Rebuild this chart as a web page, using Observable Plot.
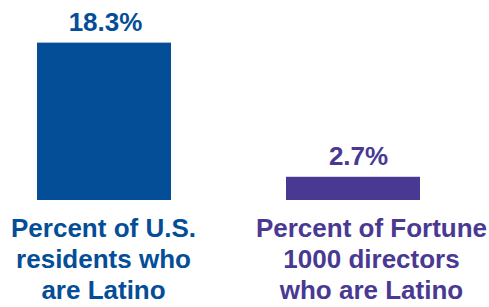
<!DOCTYPE html>
<html>
<head>
<meta charset="utf-8">
<script src="https://cdn.jsdelivr.net/npm/d3@7"></script>
<script src="https://cdn.jsdelivr.net/npm/@observablehq/plot@0.6"></script>
<style>
  html, body { margin: 0; padding: 0; background: #fff; }
  #chart svg { display: block; }
</style>
</head>
<body>
<div id="chart"></div>
<script>
const categories = ["Percent of U.S.\nresidents who\nare Latino", "Percent of Fortune\n1000 directors\nwho are Latino"];
const values = [18.3, 2.7];
const valueLabels = ["18.3%", "2.7%"];
const colors = ["#034e97", "#493993"];

const data = categories.map((c, i) => ({category: c, value: values[i], label: valueLabels[i], color: colors[i]}));
const font = "'Liberation Sans', Arial, sans-serif";

const plot = Plot.plot({
  width: 489,
  height: 307,
  marginLeft: 37,
  marginRight: 69,
  marginTop: 28,
  marginBottom: 107,
  style: {fontFamily: font, background: "#fff"},
  x: {domain: categories, paddingInner: 0.462, paddingOuter: 0, axis: null},
  y: {domain: [0, 20], axis: null},
  marks: [
    Plot.barY(data, {x: "category", y: "value", fill: d => d.color}),
    Plot.text(data.filter((d, i) => i === 0), {x: "category", y: "value", text: "label", fill: d => d.color, dy: -12, lineAnchor: "bottom", fontSize: 26, fontWeight: "bold", dx: 1}),
    Plot.text(data.filter((d, i) => i === 1), {x: "category", y: "value", text: "label", fill: d => d.color, dy: -12, lineAnchor: "bottom", fontSize: 26, fontWeight: "bold", dx: 5}),
    Plot.text(data.filter((d, i) => i === 0), {x: "category", y: () => 0, text: "category", fill: d => d.color, dy: 14, lineAnchor: "top", fontSize: 26, fontWeight: "bold", lineHeight: 1.2, dx: -1}),
    Plot.text(data.filter((d, i) => i === 1), {x: "category", y: () => 0, text: "category", fill: d => d.color, dy: 14, lineAnchor: "top", fontSize: 26, fontWeight: "bold", lineHeight: 1.2, dx: 18})
  ]
});
document.getElementById("chart").appendChild(plot);
</script>
</body>
</html>
